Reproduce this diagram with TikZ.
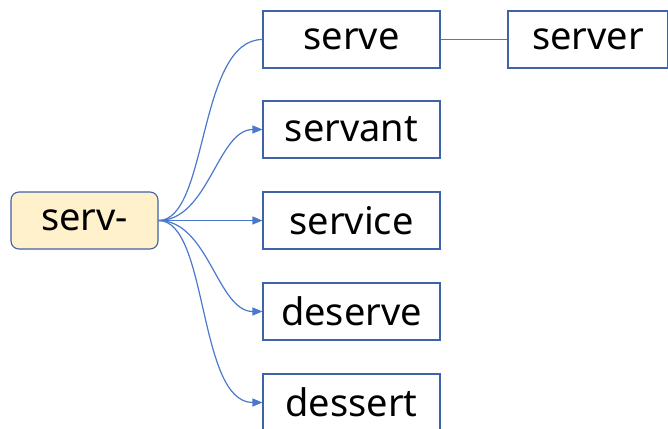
\documentclass[tikz,border=0pt]{standalone}
\usepackage{fontspec}
\setmainfont{Noto Sans}
\usetikzlibrary{arrows.meta}
\definecolor{boxblue}{HTML}{3F62A8}
\definecolor{linkblue}{HTML}{4A78CC}
\definecolor{rootfill}{HTML}{FFF1CC}
\begin{document}
\begin{tikzpicture}[x=1pt,y=-1pt,
  wordbox/.style={draw=boxblue,line width=1.1pt,rectangle,minimum width=177pt,minimum height=57pt,inner sep=0pt,font=\fontsize{38}{42}\selectfont},
  rootbox/.style={wordbox,fill=rootfill,rounded corners=8pt,minimum width=147pt},
  link/.style={draw=linkblue,line width=1.2pt},
  arrowlink/.style={link,-{Triangle[length=10pt,width=8pt]}}]
\useasboundingbox (0,0) rectangle (668,428);
\clip (0,0) rectangle (668,428);
\node[rootbox] (root) at (84.5,220.5) {serv-};
\node[wordbox] (serve) at (351.5,39.5) {serve};
\node[wordbox,minimum width=160pt] (server) at (588,39.5) {server};
\node[wordbox] (servant) at (351.5,129.5) {servant};
\node[wordbox] (service) at (351.5,220.5) {service};
\node[wordbox] (deserve) at (351.5,311.5) {deserve};
\node[wordbox] (dessert) at (351.5,402.5) {dessert};
\draw[link] (root.east) .. controls +(50,0) and +(-65,0) .. (serve.west);
\draw[arrowlink] (root.east) .. controls +(50,0) and +(-45,0) .. (servant.west);
\draw[arrowlink] (root.east) -- (service.west);
\draw[arrowlink] (root.east) .. controls +(50,0) and +(-45,0) .. (deserve.west);
\draw[arrowlink] (root.east) .. controls +(50,0) and +(-65,0) .. (dessert.west);
\draw[link] (serve.east) -- (server.west);
\end{tikzpicture}
\end{document}
